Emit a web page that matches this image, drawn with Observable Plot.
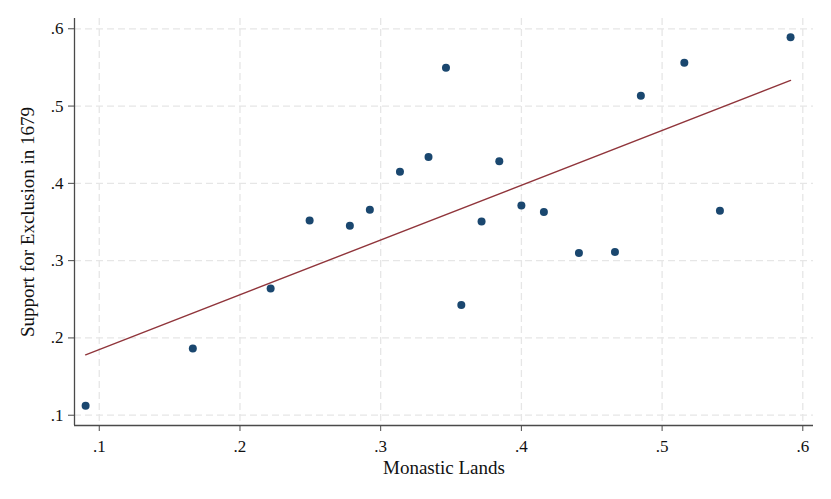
<!DOCTYPE html>
<html><head><meta charset="utf-8">
<script src="https://cdn.jsdelivr.net/npm/d3@7"></script>
<script src="https://cdn.jsdelivr.net/npm/@observablehq/plot@0.6"></script>
<style>html,body{margin:0;padding:0;background:#fff;overflow:hidden}</style>
</head><body><div id="chart"></div>
<script>
// Scatter data
const monasticLands = [0.0903, 0.1665, 0.2218, 0.2495, 0.2781, 0.2923, 0.3137, 0.3340, 0.3464, 0.3573,
                       0.3717, 0.3843, 0.4000, 0.4160, 0.4409, 0.4665, 0.4849, 0.5158, 0.5411, 0.5913];
const supportExclusion = [0.1122, 0.1863, 0.2639, 0.3521, 0.3453, 0.3660, 0.4151, 0.4340, 0.5495, 0.2427,
                          0.3508, 0.4285, 0.3715, 0.3629, 0.3100, 0.3113, 0.5133, 0.5560, 0.3647, 0.5891];
// Fitted line endpoints
const fitX = [0.0903, 0.5913];
const fitY = [0.1781, 0.5332];
// Axes
const xTicks = [0.1, 0.2, 0.3, 0.4, 0.5, 0.6];
const yTicks = [0.1, 0.2, 0.3, 0.4, 0.5, 0.6];
const xDomain = [0.0824, 0.6076];
const yDomain = [0.0867, 0.6133];
const xLabel = "Monastic Lands";
const yLabel = "Support for Exclusion in 1679";

const points = monasticLands.map((x, i) => ({x, y: supportExclusion[i]}));
const fit = fitX.map((x, i) => ({x, y: fitY[i]}));
const fmt = d => d3.format(".1f")(d).replace(/^0/, "");
const axisColor = "#4a4a4a";
const serif = "'Liberation Serif', 'DejaVu Serif', serif";

const chart = Plot.plot({
  width: 831,
  height: 499,
  marginLeft: 74,
  marginRight: 18,
  marginTop: 18,
  marginBottom: 74,
  style: {fontFamily: serif, background: "#fff", color: "#111"},
  x: {domain: xDomain, ticks: xTicks},
  y: {domain: yDomain, ticks: yTicks},
  marks: [
    Plot.gridX(xTicks, {stroke: "#e6e6e6", strokeOpacity: 1, strokeWidth: 1.3, strokeDasharray: "7,4"}),
    Plot.gridY(yTicks, {stroke: "#e6e6e6", strokeOpacity: 1, strokeWidth: 1.3, strokeDasharray: "7,4"}),
    Plot.axisX(xTicks, {tickSize: 6, tickPadding: 8, tickFormat: fmt, fontSize: 17, label: null, stroke: axisColor, fill: "#111"}),
    Plot.axisY(yTicks, {tickSize: 6, tickPadding: 5, tickFormat: fmt, fontSize: 17, label: null, stroke: axisColor, fill: "#111"}),
    Plot.ruleX([xDomain[0]], {stroke: axisColor, strokeWidth: 1.3}),
    Plot.ruleY([yDomain[0]], {stroke: axisColor, strokeWidth: 1.3}),
    Plot.dot(points, {x: "x", y: "y", r: 4, fill: "#1a476f", stroke: "none"}),
    Plot.line(fit, {x: "x", y: "y", stroke: "#90353b", strokeWidth: 1.4}),
    Plot.text([xLabel], {text: d => d, frameAnchor: "bottom", dy: 48, lineAnchor: "bottom", textAnchor: "middle", fontSize: 19, fill: "#111"}),
    Plot.text([yLabel], {text: d => d, frameAnchor: "left", dx: -54, rotate: -90, lineAnchor: "top", textAnchor: "middle", fontSize: 19, fill: "#111"})
  ]
});
document.getElementById("chart").appendChild(chart);
</script>
</body></html>
